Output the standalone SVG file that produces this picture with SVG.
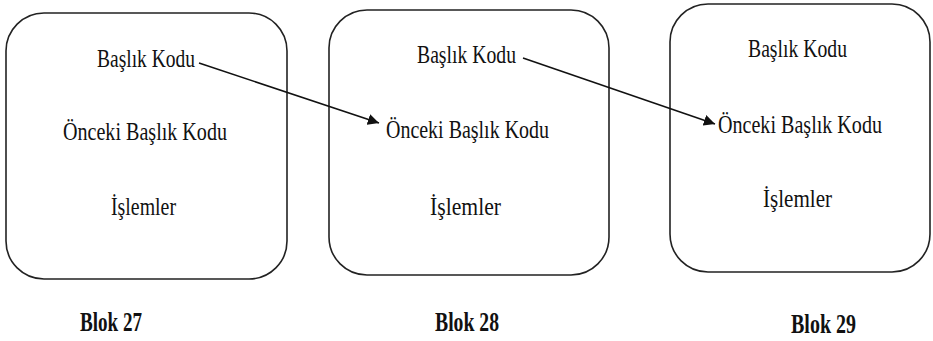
<svg xmlns="http://www.w3.org/2000/svg" width="933" height="341" viewBox="0 0 933 341">
<style>
.box{fill:#fff;stroke:#222;stroke-width:1.6}
.c{stroke:#111;stroke-width:1.6;fill:none}
</style>
<defs>
<marker id="ah" viewBox="0 0 10 10" refX="10" refY="5" markerWidth="7" markerHeight="7" markerUnits="strokeWidth" orient="auto">
<path d="M0,0 L10,5 L0,10 z" fill="#111"/>
</marker>
</defs>
<rect width="933" height="341" fill="#fff"/>
<g font-family="Liberation Serif, DejaVu Serif, serif" font-size="25" fill="#111">
<g id="blok27">
<rect class="box" x="6" y="13" width="281" height="266" rx="38"/>
<text x="97" y="67" textLength="98" lengthAdjust="spacingAndGlyphs">Başlık Kodu</text>
<text x="63" y="140" textLength="164" lengthAdjust="spacingAndGlyphs">Önceki Başlık Kodu</text>
<text x="111" y="215" textLength="65" lengthAdjust="spacingAndGlyphs">İşlemler</text>
<text x="80" y="331" font-size="27" font-weight="bold" textLength="62" lengthAdjust="spacingAndGlyphs">Blok 27</text>
</g>
<g id="blok28">
<rect class="box" x="329" y="10" width="280" height="265" rx="38"/>
<text x="417" y="63" textLength="99" lengthAdjust="spacingAndGlyphs">Başlık Kodu</text>
<text x="386" y="138" textLength="163" lengthAdjust="spacingAndGlyphs">Önceki Başlık Kodu</text>
<text x="430" y="215" textLength="71" lengthAdjust="spacingAndGlyphs">İşlemler</text>
<text x="435" y="331" font-size="27" font-weight="bold" textLength="64" lengthAdjust="spacingAndGlyphs">Blok 28</text>
</g>
<g id="blok29">
<rect class="box" x="670" y="4" width="260" height="268" rx="38"/>
<text x="748" y="57" textLength="99" lengthAdjust="spacingAndGlyphs">Başlık Kodu</text>
<text x="718" y="133" textLength="164" lengthAdjust="spacingAndGlyphs">Önceki Başlık Kodu</text>
<text x="763" y="207" textLength="69" lengthAdjust="spacingAndGlyphs">İşlemler</text>
<text x="791" y="333" font-size="27" font-weight="bold" textLength="65" lengthAdjust="spacingAndGlyphs">Blok 29</text>
</g>
</g>
<g id="connectors">
<line class="c" x1="199" y1="63" x2="379" y2="123" marker-end="url(#ah)"/>
<line class="c" x1="523" y1="58" x2="715" y2="124" marker-end="url(#ah)"/>
</g>
</svg>
